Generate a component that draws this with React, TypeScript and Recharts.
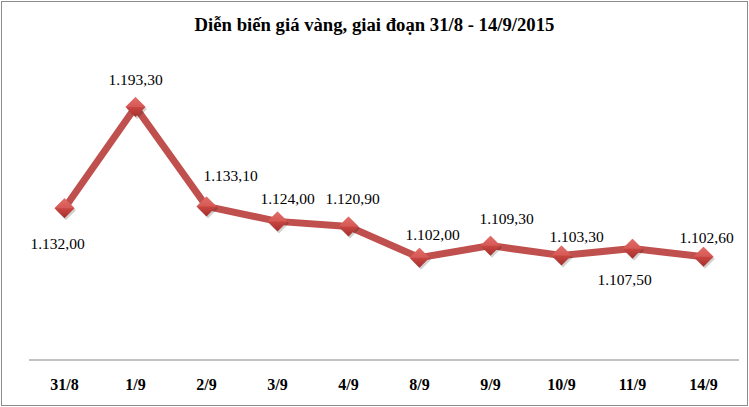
import { LineChart, Line, XAxis, YAxis, LabelList } from "recharts";

const days = ["31/8", "1/9", "2/9", "3/9", "4/9", "8/9", "9/9", "10/9", "11/9", "14/9"];
const prices = [1132.0, 1193.3, 1133.1, 1124.0, 1120.9, 1102.0, 1109.3, 1103.3, 1107.5, 1102.6];

// where each value label sits relative to its marker
const labelOffsets = [
  [-7, 35],
  [0, -28],
  [24, -31],
  [10, -23],
  [4, -28],
  [13, -23],
  [16, -27],
  [15, -19],
  [-8, 31],
  [3, -19],
];

const data = days.map((day, i) => ({ day, price: prices[i] }));

const formatVN = (v: number) => {
  const [int, dec] = v.toFixed(2).split(".");
  return int.replace(/\B(?=(\d{3})+(?!\d))/g, ".") + "," + dec;
};

const Diamond = (props: any) => {
  const { cx, cy, index } = props;
  if (cx == null || cy == null) return null;
  const r = 10;
  return (
    <g key={`d-${index}`}>
      <polygon
        points={`${cx + 1.5},${cy - r + 2} ${cx + r + 1.5},${cy + 2} ${cx + 1.5},${cy + r + 2} ${cx - r + 1.5},${cy + 2}`}
        fill="#000"
        opacity={0.18}
      />
      <polygon points={`${cx},${cy - r} ${cx + r},${cy} ${cx},${cy + r} ${cx - r},${cy}`} fill="url(#diaFill)" />
      <polygon points={`${cx},${cy - r} ${cx + r},${cy} ${cx},${cy} ${cx - r},${cy}`} fill="#e06a66" opacity={0.55} />
    </g>
  );
};

const PriceLabel = (props: any) => {
  const { x, y, value, index } = props;
  const [dx, dy] = labelOffsets[index] ?? [0, -20];
  return (
    <text
      x={x + dx}
      y={y + dy}
      textAnchor="middle"
      dominantBaseline="central"
      fontFamily="'Liberation Serif', serif"
      fontSize={15.5}
      fill="#000"
    >
      {formatVN(value)}
    </text>
  );
};

export default function App() {
  return (
    <div
      style={{
        position: "absolute",
        left: 0,
        top: 0,
        width: 749,
        height: 407,
        background: "#fff",
      }}
    >
      <div
        style={{
          position: "absolute",
          left: 1,
          top: 1,
          width: 745,
          height: 403,
          border: "1px solid #8c8c8c",
        }}
      />
      <div
        style={{
          position: "absolute",
          left: 0,
          top: 14,
          width: 749,
          textAlign: "center",
          fontFamily: "'Liberation Serif', serif",
          fontWeight: "bold",
          fontSize: 18.7,
          color: "#000",
        }}
      >
        Diễn biến giá vàng, giai đoạn 31/8 - 14/9/2015
      </div>
      <div style={{ position: "absolute", left: 0, top: 0 }}>
        <LineChart width={749} height={407} data={data} margin={{ top: 96, right: 10, left: 29, bottom: 0 }}>
          <defs>
            <linearGradient id="diaFill" x1="0" y1="0" x2="0" y2="1">
              <stop offset="0%" stopColor="#e5716d" />
              <stop offset="50%" stopColor="#c94642" />
              <stop offset="100%" stopColor="#a52f2c" />
            </linearGradient>
          </defs>
          <XAxis
            dataKey="day"
            height={47}
            padding={{ left: 35.5, right: 35.5 }}
            axisLine={{ stroke: "#868686", strokeWidth: 1 }}
            tickLine={false}
            interval={0}
            tick={{
              fill: "#000",
              fontSize: 16,
              fontWeight: "bold",
              fontFamily: "'Liberation Serif', serif",
            }}
            dy={11}
          />
          <YAxis hide domain={[1040, 1200]} />
          <Line
            type="linear"
            dataKey="price"
            stroke="#c0504d"
            strokeWidth={7}
            dot={<Diamond />}
            activeDot={false}
            isAnimationActive={false}
          >
            <LabelList dataKey="price" content={<PriceLabel />} />
          </Line>
        </LineChart>
      </div>
    </div>
  );
}
